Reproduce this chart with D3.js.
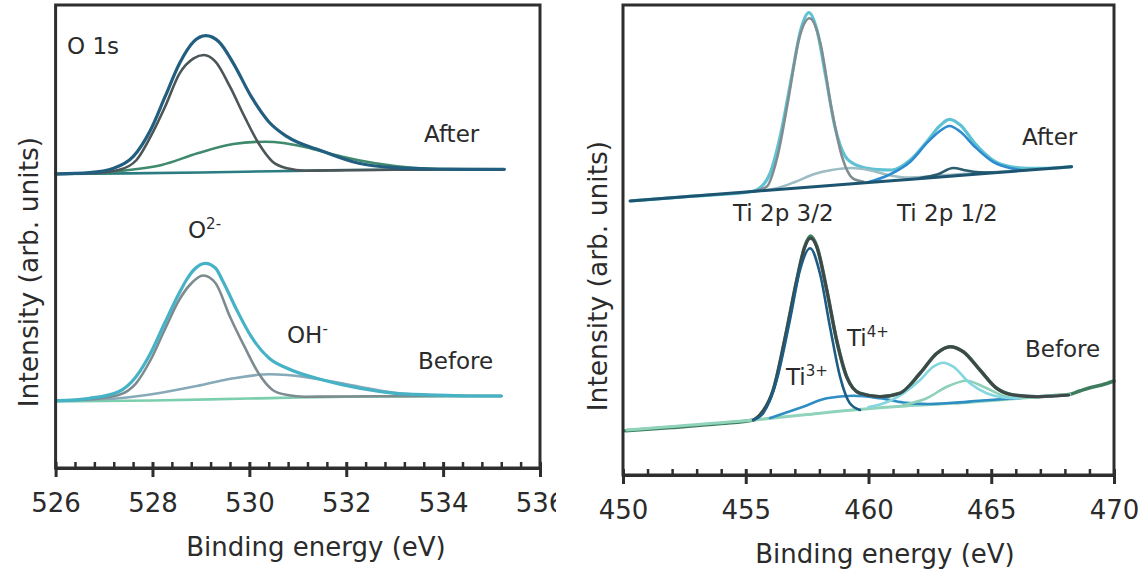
<!DOCTYPE html>
<html><head><meta charset="utf-8">
<script src="https://cdn.jsdelivr.net/npm/d3@7"></script>
<style>body{margin:0;background:#fff}svg{display:block}text{font-family:"DejaVu Sans",sans-serif;fill:#2b2b2b}</style>
</head><body>
<script>
// ---------- DATA (binding energy eV, intensity arb. units) ----------
// O 1s, After
const o1sAfterEnvelope = [[526.0,294],[526.7,295.3],[527.2,299.7],[527.6,311.3],[527.96,338],[528.26,371.3],[528.56,404.7],[528.85,426.3],[529.1,432.3],[529.37,426.3],[529.67,404.7],[530.04,371.3],[530.4,346.3],[530.78,331.3],[531.5,317],[532.26,304.7],[533.0,300.3],[533.74,299],[534.5,298.7],[535.26,298.7]];
const o1sAfterO2 = [[526.0,294],[526.7,294.7],[527.3,298],[527.67,308],[527.96,331.3],[528.26,361.3],[528.56,394.7],[528.85,409.7],[529.06,413],[529.3,406.3],[529.6,381.3],[529.9,351.3],[530.19,324.7],[530.48,306.3],[530.78,299.7],[531.15,297.3],[532.0,297.8],[533.0,298.2],[534.0,298.5],[535.26,298.7]];
const o1sAfterOH = [[526.0,294],[527.0,295.5],[527.6,298.5],[528.19,303],[528.93,314.7],[529.67,324],[530.33,326.3],[531.15,321],[531.5,316.5],[531.9,311.5],[532.6,304.7],[533.37,300.3],[534.1,299],[535.26,298.7]];
const o1sAfterBase = [[526.0,294],[527.5,294.6],[529.0,295.5],[530.5,296.8],[532.0,298],[533.5,298.5],[535.26,298.7]];
// O 1s, Before
const o1sBeforeEnvelope = [[526.02,67.3],[526.7,69.7],[527.3,76.3],[527.66,91.3],[527.96,114.7],[528.25,144.7],[528.55,174.7],[528.7,188],[528.87,199],[529.09,204.7],[529.3,200],[529.44,188],[529.74,158],[530.04,131.3],[530.41,109.7],[530.78,99.7],[531.52,88],[532.27,79.7],[533.0,74.7],[533.75,73],[534.5,72],[535.2,72]];
const o1sBeforeO2 = [[526.02,67.3],[526.7,68.7],[527.3,73],[527.66,84.7],[527.96,108],[528.25,138],[528.55,168],[528.77,183],[529.05,192.5],[529.3,185],[529.6,151.3],[529.9,121.3],[530.19,94.7],[530.48,78],[530.78,73],[531.15,71.3],[532.0,71.5],[533.0,71.8],[535.2,72]];
const o1sBeforeOH = [[526.02,67.3],[527.3,69.7],[528.18,75.3],[528.92,82],[529.67,89.7],[530.41,93.7],[530.78,93],[531.52,88],[532.27,81.3],[533.0,75.3],[533.75,73],[535.2,72]];
const o1sBeforeBase = [[526.02,66.5],[528.0,67.5],[530.0,69.5],[532.0,71.3],[535.2,72]];
// Ti 2p, After
const ti2pAfterEnvelope = [[450.29,274],[452.5,278.2],[455.26,283.5],[455.56,286.7],[455.99,301.7],[456.43,341.7],[456.87,398.3],[457.24,445],[457.57,462.3],[457.9,445],[458.26,398.3],[458.63,348.3],[459.06,318.3],[459.5,310],[460.23,305.7],[460.96,305],[461.7,315],[462.43,335],[462.87,348.3],[463.3,355.7],[463.74,350],[464.33,331.7],[465.06,315],[465.8,308.3],[466.52,306.7],[467.25,306.7],[468.27,308.3]];
const ti2pAfterP32 = [[455.26,283.3],[455.85,288.3],[456.29,318.3],[456.73,375],[457.16,435],[457.6,456.7],[458.04,431.7],[458.48,368.3],[458.92,318.3],[459.36,296.7],[459.8,293.3]];
const ti2pAfterShoulder = [[455.3,283.5],[456.3,287],[457.0,293],[457.8,301],[458.5,305],[459.3,307],[460.0,305],[460.7,300.5],[461.5,297.5],[462.5,298.5],[463.5,300.5],[464.5,302],[465.5,303.5],[466.5,305]];
const ti2pAfterP12 = [[459.94,292.5],[460.82,300],[461.7,313.3],[462.43,333.3],[462.87,343.3],[463.3,349],[463.74,343.3],[464.33,328.3],[465.06,313.3],[465.8,306.7],[466.23,305]];
const ti2pAfterSmall = [[462.1,297],[462.8,300.5],[463.45,307],[464.0,304.5],[464.4,303],[465.1,302.5]];
const ti2pAfterBase = [[450.29,274],[455.0,283],[460.0,292.5],[465.0,302],[468.27,308.3]];
// Ti 2p, Before
const ti2pBeforeRaw = [[450.1,44.3],[452.0,47.5],[454.0,51.5],[455.31,55],[455.58,60],[456.12,85],[456.67,145],[457.08,195],[457.41,229],[457.64,239],[457.89,229],[458.3,185],[458.7,135],[459.11,98.3],[459.65,81.7],[460.47,78.3],[461.28,81.7],[462.1,101.7],[462.78,121.7],[463.32,128.3],[463.86,123.3],[464.54,105],[465.22,86.7],[465.9,80],[466.85,78.3],[467.6,79.5],[468.16,80.5],[468.6,84],[469.05,87.5],[469.5,90],[470.0,94]];
const ti2pBeforeEnvelope = [[455.31,55],[455.58,60],[456.12,85],[456.67,145],[457.08,195],[457.41,228.3],[457.64,236.7],[457.89,228.3],[458.3,185],[458.7,135],[459.11,98.3],[459.65,81.7],[460.47,78.3],[461.28,81.7],[462.1,101.7],[462.78,121.7],[463.32,128.3],[463.86,123.3],[464.54,105],[465.22,86.7],[465.9,80],[466.85,78.3],[468.16,80]];
const ti2pBeforeTi4 = [[455.31,55],[455.71,61.7],[456.26,95],[456.8,155],[457.21,205],[457.62,226.7],[458.02,201.7],[458.43,148.3],[458.84,98.3],[459.24,71.7],[459.65,65]];
const ti2pBeforeTi3 = [[455.99,57],[457.34,68.3],[458.3,76.7],[459.38,79.3],[460.47,76.7],[461.42,72.5],[462.37,71],[463.45,72.2],[464.5,74.2],[466.17,77]];
const ti2pBeforeC463 = [[460.0,68],[460.47,70.5],[461.42,81.7],[462.1,95],[462.64,108.3],[463.05,112.3],[463.45,108.3],[464.13,91.7],[464.81,81.7],[465.49,77.5],[466.17,76.7]];
const ti2pBeforeC464 = [[461.42,70],[462.37,76.7],[463.19,88.3],[464.0,94.3],[464.68,88.3],[465.49,79.3],[466.17,76.7]];
const ti2pBeforeBase = [[450.15,45],[452.0,48.5],[455.31,55],[457.5,60.5],[459.38,65],[461.5,69],[463.45,71.7],[466.17,76.7],[468.2,80.5]];

// axis ticks
const o1sMajorTicks = [526,528,530,532,534,536];
const o1sMinorTicks = [526.4,526.8,527.2,527.6,528.4,528.8,529.2,529.6,530.4,530.8,531.2,531.6,532.4,532.8,533.2,533.6,534.4,534.8,535.2,535.6];
const ti2pMajorTicks = [450,455,460,465,470];
const ti2pMinorTicks = [451,452,453,454,456,457,458,459,461,462,463,464,466,467,468,469];

const xTitle = "Binding energy (eV)";
const yTitle = "Intensity (arb. units)";

// ---------- DRAW ----------
const svg = d3.select("body").append("svg").attr("width",1142).attr("height",572);
svg.append("defs").append("clipPath").attr("id","leftClip")
  .append("rect").attr("x",0).attr("y",0).attr("width",556).attr("height",572);

function panel(cfg){
  const x = d3.scaleLinear().domain(cfg.xDomain).range([cfg.left,cfg.right]);
  const y = d3.scaleLinear().domain(cfg.yDomain).range([cfg.bottom,cfg.top]);
  const g = svg.append("g");
  if(cfg.clip) g.attr("clip-path",`url(#${cfg.clip})`);
  const line = d3.line().x(d=>x(d[0])).y(d=>y(d[1])).curve(d3.curveMonotoneX);
  cfg.series.forEach(s=>{
    g.append("path").datum(s.data).attr("d",line).attr("fill","none")
      .attr("stroke",s.color).attr("stroke-width",s.w||2.6)
      .attr("stroke-linejoin","round").attr("stroke-linecap","round");
  });
  g.append("rect").attr("x",cfg.left).attr("y",cfg.top)
    .attr("width",cfg.right-cfg.left).attr("height",cfg.bottom-cfg.top)
    .attr("fill","none").attr("stroke","#2e2e2e").attr("stroke-width",3);
  const minor = g.append("g").attr("transform",`translate(0,${cfg.bottom})`)
    .call(d3.axisBottom(x).tickValues(cfg.minor).tickSizeInner(-6).tickSizeOuter(0).tickFormat(""));
  minor.select(".domain").remove();
  minor.selectAll("line").attr("stroke","#2e2e2e").attr("stroke-width",2.5);
  const major = g.append("g").attr("transform",`translate(0,${cfg.bottom})`)
    .call(d3.axisBottom(x).tickValues(cfg.major).tickSizeInner(8).tickSizeOuter(0).tickFormat(d3.format("d")));
  major.select(".domain").attr("stroke","#2e2e2e").attr("stroke-width",3);
  major.selectAll("line").attr("y1",-6).attr("y2",9).attr("stroke","#2e2e2e").attr("stroke-width",3);
  major.selectAll("text").attr("y",cfg.tickLabelY).attr("dy",0)
    .style("font-family","DejaVu Sans").style("font-size","26px").attr("fill","#2b2b2b");
  svg.append("text").attr("x",cfg.xTitleX).attr("y",cfg.xTitleY).attr("text-anchor","middle")
    .style("font-size","26px").text(xTitle);
  svg.append("text").attr("transform",`translate(${cfg.yTitleX},${cfg.yTitleY}) rotate(-90)`)
    .attr("text-anchor","middle").style("font-size","26.5px").text(yTitle);
  cfg.labels.forEach(l=>{
    const t = svg.append("text").attr("x",l.x).attr("y",l.y).style("font-size","23px");
    t.append("tspan").text(l.t);
    if(l.sup) t.append("tspan").attr("dy",-9).style("font-size","15px").text(l.sup);
  });
}

panel({
  xDomain:[526,536], yDomain:[0,463], left:55.6, right:540, top:5, bottom:468, clip:"leftClip",
  major:o1sMajorTicks, minor:o1sMinorTicks, tickLabelY:43.5,
  xTitleX:316, xTitleY:556, yTitleX:38, yTitleY:272,
  series:[
    {data:o1sAfterBase,color:"#2b7c80"},
    {data:o1sAfterOH,color:"#3f8a6c"},
    {data:o1sAfterO2,color:"#4c5558"},
    {data:o1sAfterEnvelope,color:"#215e7f",w:3.2},
    {data:o1sBeforeBase,color:"#7ccfae"},
    {data:o1sBeforeOH,color:"#86aab8"},
    {data:o1sBeforeO2,color:"#7d8b90"},
    {data:o1sBeforeEnvelope,color:"#45b2c6",w:3.2}
  ],
  labels:[
    {x:67,y:54,t:"O 1s"},
    {x:424,y:142,t:"After"},
    {x:188,y:238,t:"O",sup:"2-"},
    {x:287,y:343,t:"OH",sup:"-"},
    {x:418,y:369,t:"Before"}
  ]
});

panel({
  xDomain:[450,470], yDomain:[0,470], left:623, right:1114, top:5, bottom:475,
  major:ti2pMajorTicks, minor:ti2pMinorTicks, tickLabelY:43.5,
  xTitleX:885, xTitleY:563, yTitleX:607, yTitleY:276,
  series:[
    {data:ti2pAfterEnvelope,color:"#5ec2d2",w:3.2},
    {data:ti2pAfterShoulder,color:"#9dbcc4"},
    {data:ti2pAfterP32,color:"#808d90"},
    {data:ti2pAfterP12,color:"#2f8bd0"},
    {data:ti2pAfterSmall,color:"#2b5d6e"},
    {data:ti2pAfterBase,color:"#1d5570",w:3},
    {data:ti2pBeforeRaw,color:"#3d7d5e",w:3.6},
    {data:ti2pBeforeBase,color:"#8fd3bb",w:3},
    {data:ti2pBeforeTi3,color:"#2e8ec4"},
    {data:ti2pBeforeC464,color:"#8ed0b8"},
    {data:ti2pBeforeC463,color:"#84d6e0"},
    {data:ti2pBeforeEnvelope,color:"#3e4848",w:3},
    {data:ti2pBeforeTi4,color:"#1d5c85"}
  ],
  labels:[
    {x:733,y:221,t:"Ti 2p 3/2"},
    {x:897,y:221,t:"Ti 2p 1/2"},
    {x:1022,y:145,t:"After"},
    {x:847,y:346,t:"Ti",sup:"4+"},
    {x:786,y:385,t:"Ti",sup:"3+"},
    {x:1025,y:357,t:"Before"}
  ]
});
</script>
</body></html>
